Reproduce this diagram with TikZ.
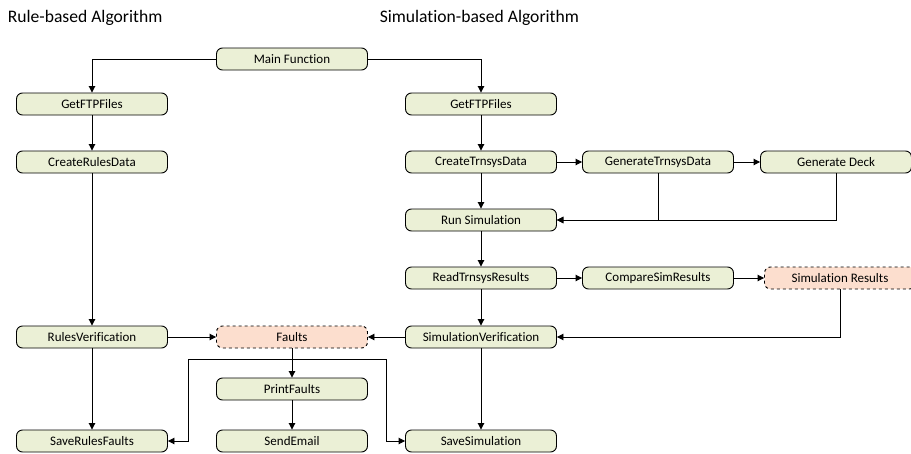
\documentclass[tikz,border=0pt]{standalone}
\usepackage{fontspec}
\setmainfont{Carlito}[Ligatures=NoCommon]
\usetikzlibrary{arrows.meta}
\definecolor{stepgreen}{RGB}{235,240,214}
\definecolor{datapeach}{RGB}{252,222,206}
\tikzset{
    box/.style ={
        rectangle,
        rounded corners =6pt,
        minimum width =151pt,
        minimum height =22pt,
        inner sep=2pt,
        draw=black,
        line width=0.9pt,
        fill=stepgreen
    },
    databox/.style ={
        box,
        dashed,
        fill=datapeach
    },
    title/.style ={
        anchor=west,
        font=\fontsize{17.6}{20}\selectfont
    }
}

\begin{document}
\begin{tikzpicture}[x=1pt,y=-1pt,font=\fontsize{13}{15}\selectfont,
    >={Triangle[length=6.5pt,width=6.5pt]}, line width=0.9pt]
        \useasboundingbox (0,0) rectangle (911,453);

        \node[title] (RTITLE) at(4,18) {Rule-based Algorithm};
        \node[title] (STITLE) at(376,18) {Simulation-based Algorithm};

        \node[box] (MAIN) at(292,59) {Main Function};

        % rule-based column
        \node[box] (RGET) at(92,104) {GetFTPFiles};
        \node[box] (RCREATE) at(92,162) {CreateRulesData};
        \node[box] (RVERIFY) at(92,337) {RulesVerification};
        \node[box] (RSAVE) at(92,441) {SaveRulesFaults};

        % simulation-based column
        \node[box] (SGET) at(481,104) {GetFTPFiles};
        \node[box] (SCREATE) at(481,162) {CreateTrnsysData};
        \node[box] (GENTRN) at(658,162) {GenerateTrnsysData};
        \node[box] (DECK) at(836,162) {Generate Deck};
        \node[box] (SRUN) at(481,220) {Run Simulation};
        \node[box] (SREAD) at(481,278) {ReadTrnsysResults};
        \node[box] (COMPARE) at(658,278) {CompareSimResults};
        \node[databox] (SIMRES) at(840,278) {Simulation Results};
        \node[box] (SVERIFY) at(481,337) {SimulationVerification};
        \node[box] (SSAVE) at(481,441) {SaveSimulation};

        % fault handling
        \node[databox] (FAULTS) at(292,337) {Faults};
        \node[box] (PRINT) at(292,389) {PrintFaults};
        \node[box] (EMAIL) at(292,441) {SendEmail};
        \coordinate (FLEFT) at(188,359);
        \coordinate (FRIGHT) at(386,359);

        \draw[->] (MAIN)-|(RGET);
        \draw[->] (MAIN)-|(SGET);
        \draw[->] (RGET)--(RCREATE);
        \draw[->] (RCREATE)--(RVERIFY);
        \draw[->] (RVERIFY)--(RSAVE);
        \draw[->] (RVERIFY)--(FAULTS);

        \draw[->] (SGET)--(SCREATE);
        \draw[->] (SCREATE)--(SRUN);
        \draw[->] (SCREATE)--(GENTRN);
        \draw[->] (GENTRN)--(DECK);
        \draw[->] (GENTRN)|-(SRUN);
        \draw[->] (DECK)|-(SRUN);
        \draw[->] (SRUN)--(SREAD);
        \draw[->] (SREAD)--(COMPARE);
        \draw[->] (COMPARE)--(SIMRES);
        \draw[->] (SIMRES)|-(SVERIFY);
        \draw[->] (SREAD)--(SVERIFY);
        \draw[->] (SVERIFY)--(FAULTS);
        \draw[->] (SVERIFY)--(SSAVE);

        \draw[->] (FAULTS)--(PRINT);
        \draw[->] (PRINT)--(EMAIL);
        \draw[->] (FAULTS.south)|-(FLEFT)|-(RSAVE);
        \draw[->] (FAULTS.south)|-(FRIGHT)|-(SSAVE);
    \end{tikzpicture}
\end{document}
